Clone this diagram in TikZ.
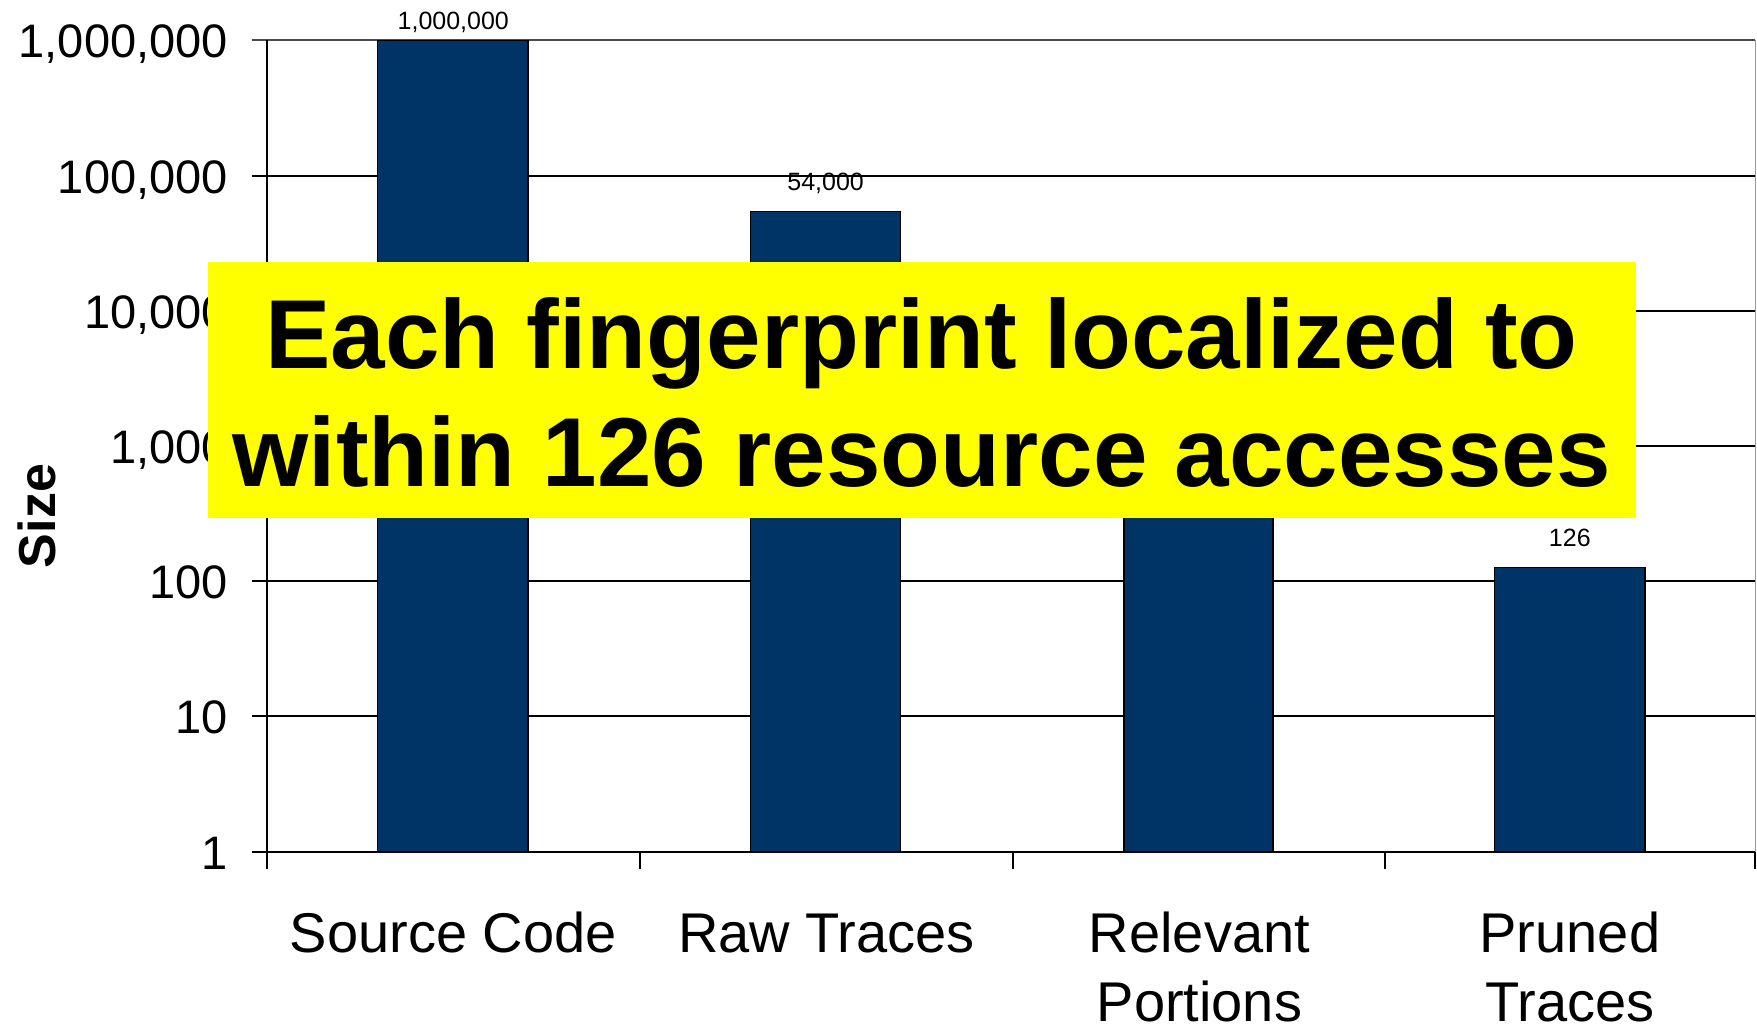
\documentclass[tikz,border=0pt]{standalone}
\usepackage{fontspec}
\setmainfont{Liberation Sans}
\definecolor{barblue}{RGB}{0,51,102}
\definecolor{hiyellow}{RGB}{255,255,0}
\begin{document}
\begin{tikzpicture}[x=1pt,y=-1pt,
  grid/.style={line width=2pt, black},
  barbox/.style={draw=black, line width=1.5pt, fill=barblue},
  ylab/.style={anchor=base east, inner sep=0pt, font=\fontsize{47}{56}\selectfont},
  vlab/.style={anchor=base, inner sep=0pt, font=\fontsize{25}{30}\selectfont},
  clab/.style={anchor=base, inner sep=0pt, font=\fontsize{56}{67}\selectfont},
  tlab/.style={anchor=base, inner sep=0pt, font=\bfseries\fontsize{98}{118}\selectfont},
  tickline/.style={line width=1.5pt, black}
]
\useasboundingbox (0,0) rectangle (1757,1026);
\fill[white] (0,0) rectangle (1757,1026);

% gridlines and y labels
\foreach \k/\lab in {0/1,1/10,2/100,3/{1,000},4/{10,000},5/{100,000},6/{1,000,000}}{
  \pgfmathsetmacro{\yy}{851.6-135.2*\k}
  \draw[grid] (251.7,\yy) -- (1754.7,\yy);
  \node[ylab] (ylab\k) at (228,\yy+17.5) {\lab};
}
\draw[line width=2pt, black!70] (251.7,40.3) -- (1754.7,40.3);
% right border
\draw[line width=1.5pt, black!40] (1755.3,40.3) -- (1755.3,851.6);

% bars
\draw[barbox] (377.6,40.3) rectangle (527.8,851.6);
\draw[barbox] (750.5,211.5) rectangle (900.7,851.6);
\draw[barbox] (1123.9,400) rectangle (1272.9,851.6);
\draw[barbox] (1494.7,567.6) rectangle (1644.9,851.6);

% axes
\draw[line width=2pt] (266.7,40.3) -- (266.7,869);
\draw[grid] (251.7,851.6) -- (1754.7,851.6);
\foreach \xx in {639.8,1013,1385,1754.8}{
  \draw[tickline] (\xx,851.6) -- (\xx,869);
}

% value labels
\node[vlab] (v1) at (453.3,29.3) {1,000,000};
\node[vlab] (v2) at (825.6,190.7) {54,000};
\node[vlab] (v4) at (1569.8,546.7) {126};

% category labels
\node[clab] (c1) at (453.3,952.7) {Source Code};
\node[clab] (c2) at (826.4,952.7) {Raw Traces};
\node[clab] (c3a) at (1199.4,952.7) {Relevant};
\node[clab] (c3b) at (1199.4,1021) {Portions};
\node[clab] (c4a) at (1569.9,952.7) {Pruned};
\node[clab] (c4b) at (1569.9,1021) {Traces};

% axis title
\node[rotate=90, anchor=base, inner sep=0pt, font=\bfseries\fontsize{52}{60}\selectfont] (size) at (55,516) {Size};

% highlight box
\node[fill=hiyellow, minimum width=1428.2pt, minimum height=256.3pt, inner sep=0pt, anchor=north west] (tbox) at (207.3,261.7) {};
\node[tlab] (t1) at (921.7,368) {Each fingerprint localized to};
\node[tlab] (t2) at (921.7,486) {within 126 resource accesses};
\end{tikzpicture}
\end{document}
